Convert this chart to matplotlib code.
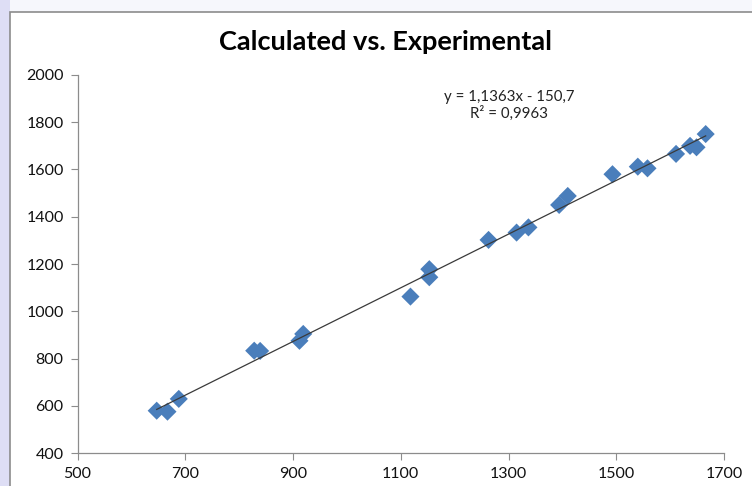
import matplotlib
matplotlib.use("Agg")
import matplotlib.pyplot as plt
from matplotlib.patches import Rectangle
import numpy as np

# ---- data ----
calculated = [647, 667, 688, 828, 839, 912, 919, 1118, 1153, 1153, 1263,
              1315, 1337, 1394, 1410, 1493, 1540, 1558, 1611, 1637, 1649, 1666]
experimental = [579, 575, 629, 833, 832, 875, 904, 1062, 1178, 1144, 1302,
                1333, 1355, 1450, 1488, 1580, 1612, 1605, 1666, 1700, 1694, 1750]
trend_slope = 1.1363
trend_intercept = -150.7
trend_label = "y = 1,1363x - 150,7\nR² = 0,9963"
title = "Calculated vs. Experimental"
x_ticks = [500, 700, 900, 1100, 1300, 1500, 1700]
y_ticks = [400, 600, 800, 1000, 1200, 1400, 1600, 1800, 2000]

plt.rcParams['font.family'] = ['Lato', 'DejaVu Sans']

W, H = 752, 486
fig = plt.figure(figsize=(W / 100, H / 100), dpi=100)
fig.patch.set_facecolor('#f6f7fc')

# outer background strips and chart frame
fig.add_artist(Rectangle((0, 0), 9.5 / W, 1, transform=fig.transFigure,
                         facecolor='#dedef5', edgecolor='none', zorder=0))
fig.add_artist(Rectangle((9.5 / W, -0.01), 1.0, 1 - 12 / H + 0.01,
                         transform=fig.transFigure, facecolor='white',
                         edgecolor='#8c8c8c', linewidth=1.2, zorder=0))

ax = fig.add_axes([77.5 / W, 1 - 453 / H, (724 - 77.5) / W, (453 - 75) / H])
ax.set_facecolor('none')

ax.scatter(calculated, experimental, marker='D', s=85, color='#4a7ebb',
           edgecolors='none', zorder=3)

xs = np.array([min(calculated), max(calculated)])
ax.plot(xs, trend_slope * xs + trend_intercept, color='#3a3a3a',
        linewidth=0.9, zorder=4)

ax.set_xlim(500, 1700)
ax.set_ylim(400, 2000)
ax.set_xticks(x_ticks)
ax.set_yticks(y_ticks)
ax.tick_params(axis='both', direction='out', length=5, width=0.8,
               color='#8c8c8c', labelsize=11.5, labelcolor='#111111', pad=5)
for s in ['top', 'right']:
    ax.spines[s].set_visible(False)
for s in ['left', 'bottom']:
    ax.spines[s].set_color('#8c8c8c')
    ax.spines[s].set_linewidth(0.9)

fig.text(385 / W, 1 - 42 / H, title, ha='center', va='center',
         fontsize=19.5, fontweight='bold', color='black')

fig.text(509 / W, 1 - 105 / H, trend_label, ha='center', va='center',
         fontsize=10.8, color='#222222', linespacing=1.15, multialignment='center')

fig.savefig('out.png', dpi=100, facecolor=fig.get_facecolor())
